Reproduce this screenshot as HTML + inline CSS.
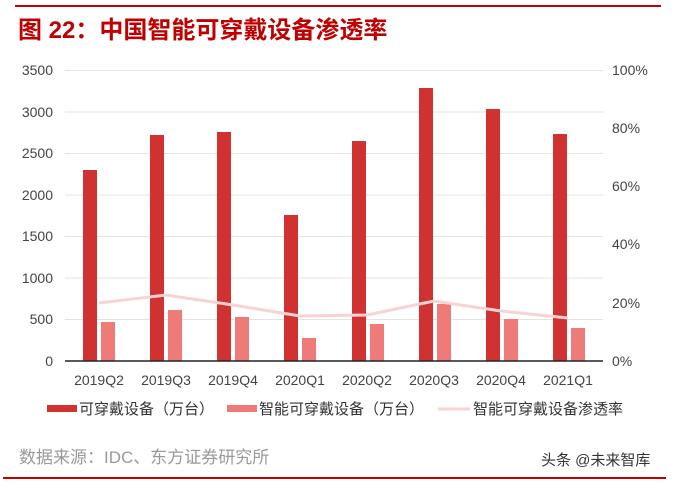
<!DOCTYPE html>
<html><head><meta charset="utf-8"><style>
body{margin:0;background:#fff;}
svg text{font-family:"Liberation Sans","Noto Sans CJK SC",sans-serif;}
</style></head><body>
<svg width="676" height="483" viewBox="0 0 676 483" xmlns="http://www.w3.org/2000/svg">
<rect width="676" height="483" fill="#fff"/>
<rect x="15" y="5" width="646" height="2" fill="#c00000"/>
<text x="18" y="38" font-size="24" font-weight="bold" fill="#c00000">图 22：中国智能可穿戴设备渗透率</text>
<g stroke="#e3e3e3" stroke-width="1">
<line x1="65" x2="603" y1="70.5" y2="70.5"/><line x1="65" x2="603" y1="112" y2="112"/>
<line x1="65" x2="603" y1="153.5" y2="153.5"/><line x1="65" x2="603" y1="195" y2="195"/>
<line x1="65" x2="603" y1="236.5" y2="236.5"/><line x1="65" x2="603" y1="278" y2="278"/>
<line x1="65" x2="603" y1="319.5" y2="319.5"/>
</g>
<g font-size="14" fill="#444" text-anchor="end">
<text x="53" y="75">3500</text><text x="53" y="117">3000</text><text x="53" y="158">2500</text>
<text x="53" y="200">2000</text><text x="53" y="241">1500</text><text x="53" y="283">1000</text>
<text x="53" y="324">500</text><text x="53" y="366">0</text>
</g>
<g font-size="14" fill="#444">
<text x="612" y="75">100%</text><text x="612" y="133">80%</text><text x="612" y="191">60%</text>
<text x="612" y="249">40%</text><text x="612" y="308">20%</text><text x="612" y="366">0%</text>
</g>
<g fill="#d03232">
<rect x="83" y="170" width="14" height="191"/>
<rect x="150" y="135" width="14" height="226"/>
<rect x="217" y="132" width="14" height="229"/>
<rect x="284" y="215" width="14" height="146"/>
<rect x="352" y="141" width="14" height="220"/>
<rect x="419" y="88" width="14" height="273"/>
<rect x="486" y="109" width="14" height="252"/>
<rect x="553" y="134" width="14" height="227"/>
</g>
<g fill="#ef7b78">
<rect x="101" y="322" width="14" height="39"/>
<rect x="168" y="310" width="14" height="51"/>
<rect x="235" y="317" width="14" height="44"/>
<rect x="302" y="338" width="14" height="23"/>
<rect x="370" y="324" width="14" height="37"/>
<rect x="437" y="304" width="14" height="57"/>
<rect x="504" y="319" width="14" height="42"/>
<rect x="571" y="328" width="14" height="33"/>
</g>
<polyline fill="none" stroke="#f7d3d3" stroke-width="3" points="99,303 166,295 233,305 300,316 367,315 434,301 501,311 568,318"/>
<line x1="65" x2="603" y1="361" y2="361" stroke="#222" stroke-width="1.5"/>
<g font-size="14" fill="#444" text-anchor="middle">
<text x="99" y="385">2019Q2</text><text x="166" y="385">2019Q3</text><text x="233" y="385">2019Q4</text>
<text x="300" y="385">2020Q1</text><text x="367" y="385">2020Q2</text><text x="434" y="385">2020Q3</text>
<text x="501" y="385">2020Q4</text><text x="568" y="385">2021Q1</text>
</g>
<rect x="47" y="405" width="30" height="7" fill="#d03232"/>
<text x="79" y="414" font-size="15" fill="#333">可穿戴设备（万台）</text>
<rect x="227" y="405" width="30" height="7" fill="#ef7b78"/>
<text x="259" y="414" font-size="15" fill="#333">智能可穿戴设备（万台）</text>
<line x1="438" x2="470" y1="409" y2="409" stroke="#f7d3d3" stroke-width="3"/>
<text x="473" y="414" font-size="15" fill="#333">智能可穿戴设备渗透率</text>
<text x="19" y="463" font-size="17" fill="#999">数据来源：IDC、东方证券研究所</text>
<text x="541" y="465" font-size="15" fill="#333">头条 @未来智库</text>
<rect x="3" y="477" width="663" height="2" fill="#c00000"/>
</svg>
</body></html>
